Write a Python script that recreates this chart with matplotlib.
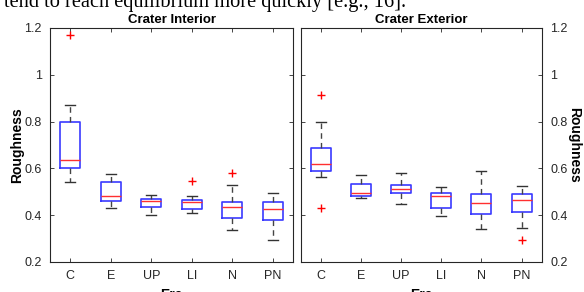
import matplotlib
matplotlib.use("Agg")
import matplotlib.pyplot as plt

plt.rcParams['font.family'] = ['Liberation Sans', 'DejaVu Sans']

eras = ["C", "E", "UP", "LI", "N", "PN"]

# interior: lower whisker, q1, median, q3, upper whisker
intLow = [0.540, 0.431, 0.399, 0.410, 0.337, 0.293]
intQ1 = [0.600, 0.459, 0.433, 0.427, 0.387, 0.381]
intMed = [0.636, 0.484, 0.461, 0.456, 0.433, 0.426]
intQ3 = [0.800, 0.540, 0.469, 0.463, 0.457, 0.457]
intHigh = [0.871, 0.576, 0.487, 0.481, 0.529, 0.493]
intOut = [[1.168], [], [], [0.547], [0.579], []]

extLow = [0.563, 0.474, 0.447, 0.397, 0.339, 0.344]
extQ1 = [0.591, 0.484, 0.497, 0.429, 0.403, 0.413]
extMed = [0.617, 0.496, 0.513, 0.480, 0.453, 0.467]
extQ3 = [0.686, 0.534, 0.530, 0.494, 0.489, 0.489]
extHigh = [0.800, 0.573, 0.579, 0.519, 0.590, 0.524]
extOut = [[0.914, 0.429], [], [], [], [], [0.293]]


def makeStats(low, q1, med, q3, high, out):
    stats = []
    for i in range(len(eras)):
        stats.append({"label": eras[i], "whislo": low[i], "q1": q1[i], "med": med[i],
                      "q3": q3[i], "whishi": high[i], "fliers": out[i]})
    return stats


def drawPanel(ax, stats, title):
    ax.bxp(stats, positions=range(1, len(eras) + 1), widths=0.5,
           showfliers=True, capwidths=0.25,
           boxprops=dict(color="#3a3aff", linewidth=1.2),
           medianprops=dict(color="#ff3030", linewidth=1.0),
           whiskerprops=dict(color="#444444", linewidth=1.0, linestyle=(0, (4, 3))),
           capprops=dict(color="#333333", linewidth=1.0),
           flierprops=dict(marker="+", markeredgecolor="red", markersize=6, linestyle="none"))
    ax.set_xlim(0.5, 6.5)
    ax.set_ylim(0.2, 1.2)
    ax.set_yticks([0.2, 0.4, 0.6, 0.8, 1.0, 1.2])
    ax.set_yticklabels(["0.2", "0.4", "0.6", "0.8", "1", "1.2"])
    ax.set_xticks(range(1, len(eras) + 1))
    ax.set_xticklabels(eras)
    ax.tick_params(direction="in", length=3, width=0.6, colors="#262626",
                   labelsize=9, top=True, right=True, pad=6)
    for s in ax.spines.values():
        s.set_color("#262626")
        s.set_linewidth(0.8)
    ax.set_title(title, fontsize=9.5, fontweight="bold", pad=3.5)
    ax.set_xlabel("Era", fontsize=10, fontweight="bold", labelpad=4)


fig = plt.figure(figsize=(5.84, 2.92), dpi=100)
ax1 = fig.add_axes([50 / 584, 30 / 292, 243 / 584, 234 / 292])
ax2 = fig.add_axes([300.7 / 584, 30 / 292, 241 / 584, 234 / 292])

drawPanel(ax1, makeStats(intLow, intQ1, intMed, intQ3, intHigh, intOut), "Crater Interior")
drawPanel(ax2, makeStats(extLow, extQ1, extMed, extQ3, extHigh, extOut), "Crater Exterior")

ax1.set_ylabel("Roughness", fontsize=10, fontweight="bold", labelpad=0)
ax2.yaxis.tick_right()
ax2.tick_params(left=True, labelleft=False, labelright=True)
ax2.yaxis.set_label_position("right")
ax2.set_ylabel("Roughness", fontsize=10, fontweight="bold", rotation=270, labelpad=10)

# leftover line of body text cut off at the top of the crop
fig.text(4 / 584, 1 - 7 / 292, "tend to reach equilibrium more quickly [e.g., 16].",
         family="Liberation Serif", fontsize=14.7, va="baseline", ha="left")

fig.savefig("out.png", dpi=100)
